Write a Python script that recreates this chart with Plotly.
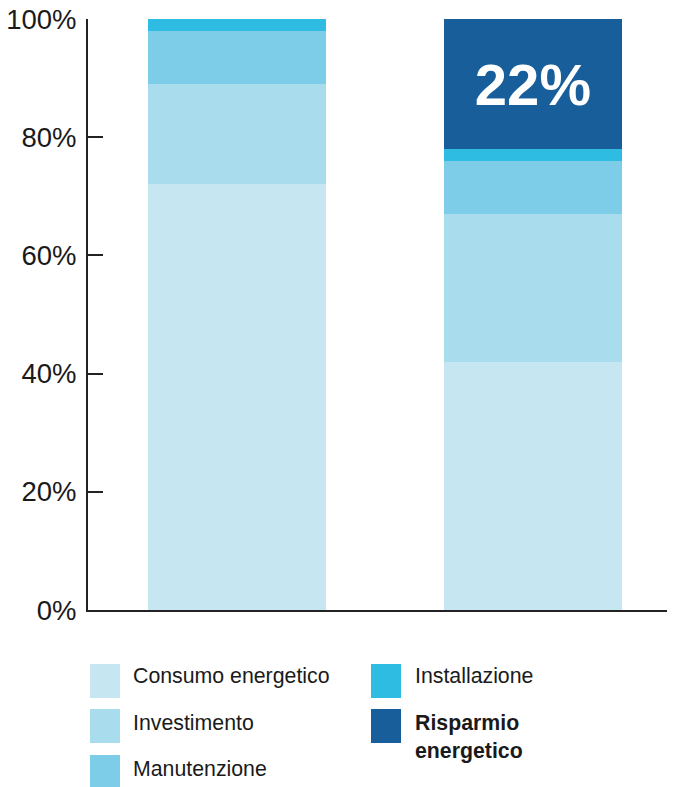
import plotly.graph_objects as go

# ---- data ----
categories = ["Soluzione tradizionale", "Soluzione efficiente"]
series_names = ["Consumo energetico", "Investimento", "Manutenzione", "Installazione", "Risparmio energetico"]
legend_labels = ["Consumo energetico", "Investimento", "Manutenzione", "Installazione", "<b>Risparmio<br>energetico</b>"]
consumo = [72, 42]
investimento = [17, 25]
manutenzione = [9, 9]
installazione = [2, 2]
risparmio = [None, 22]
risparmio_text = ["", "22%"]
y_ticks = [0, 20, 40, 60, 80, 100]
y_tick_labels = ["0%", "20%", "40%", "60%", "80%", "100%"]

colors = ["#c6e7f1", "#a9dced", "#7ecde8", "#2ebce2", "#185e9b"]
values = [consumo, investimento, manutenzione, installazione, risparmio]

FONT = "Liberation Sans, Arial, Helvetica, sans-serif"
OFF = 8  # page body margin
W, H = 675, 787
# target page pixels: plot x 88..675, y 19..610
L, T = 88 - OFF, 19 - OFF
R = W - (675 - OFF)
B = H - (610 - OFF)
PW, PH = W - L - R, H - T - B

def px_x(px):
    return (px - OFF - L) / PW

def px_y(py):
    return (H - B - (py - OFF)) / PH

fig = go.Figure()
for i, (name, vals, col) in enumerate(zip(series_names, values, colors)):
    kw = {}
    if name == "Risparmio energetico":
        kw = dict(text=risparmio_text, textposition="inside", insidetextanchor="middle",
                  textangle=0,
                  textfont=dict(family=FONT, size=58, color="white", weight="bold"))
    fig.add_trace(go.Bar(x=categories, y=vals, name=name,
                         marker=dict(color=col, line=dict(width=0)),
                         showlegend=False, hoverinfo="skip", **kw))

# custom legend (boxes + labels)
legend_pos = [(0, 0), (0, 1), (0, 2), (1, 0), (1, 1)]
box_x = [90, 371]
text_x = [131, 413]
box_top = [664, 709, 755]
text_cy = [676, 723, 769]
for (c, r), lab, col in zip(legend_pos, legend_labels, colors):
    fig.add_shape(type="rect", xref="paper", yref="paper",
                  x0=px_x(box_x[c]), x1=px_x(box_x[c] + 30),
                  y0=px_y(box_top[r] + 34), y1=px_y(box_top[r]),
                  fillcolor=col, line=dict(width=0))
    cy = text_cy[r]
    if "<br>" in lab:
        cy = 737
    fig.add_annotation(x=px_x(text_x[c]), y=px_y(cy), xref="paper", yref="paper",
                       xanchor="left", yanchor="middle", align="left",
                       text=lab, showarrow=False,
                       font=dict(family=FONT, size=21.3, color="#1a1a1a"))

fig.update_layout(
    width=W, height=H, autosize=False,
    margin=dict(l=L, r=R, t=T, b=B, pad=0),
    barmode="stack", bargap=0.4,
    paper_bgcolor="white", plot_bgcolor="white",
    font=dict(family=FONT, color="#1a1a1a"),
    xaxis=dict(range=[-0.503, 1.48], showticklabels=False, ticks="",
               showline=True, linecolor="#222222", linewidth=2,
               showgrid=False, zeroline=False, automargin=False),
    yaxis=dict(range=[0, 100], tickvals=y_ticks, ticktext=y_tick_labels,
               ticks="inside", ticklen=15, tickwidth=2, tickcolor="#222222",
               showline=True, linecolor="#222222", linewidth=2,
               showgrid=False, zeroline=False, ticklabelstandoff=4,
               ticklabeloverflow="allow", automargin=False,
               tickfont=dict(family=FONT, size=27.5, color="#1a1a1a")),
)

fig.write_html("out.html")
